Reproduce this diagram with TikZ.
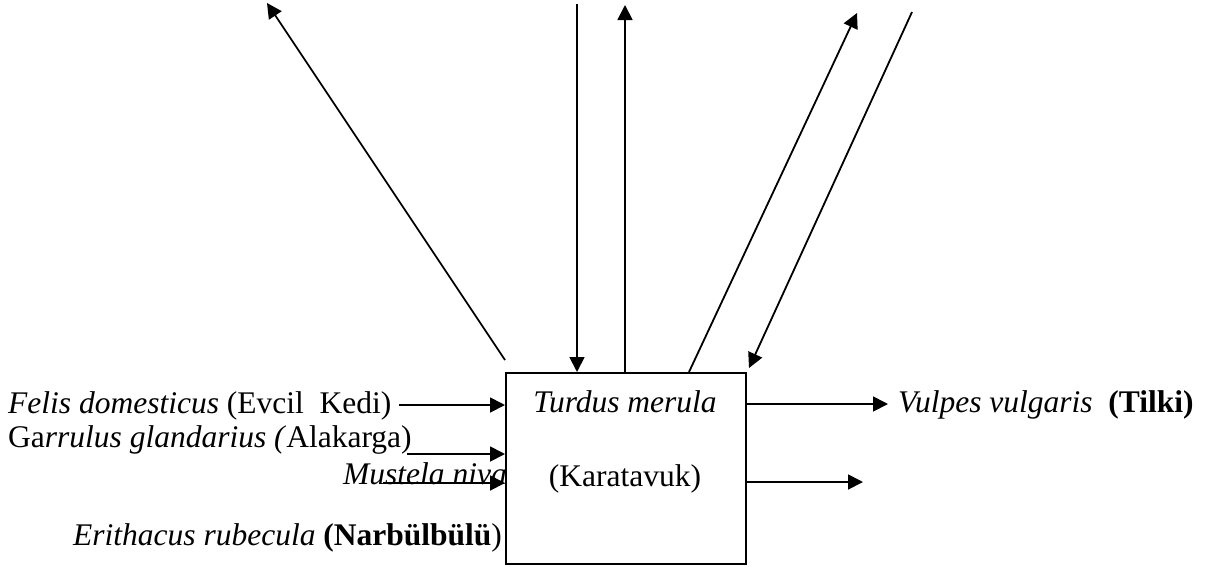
\documentclass[tikz,border=0pt]{standalone}
\usepackage{fontspec}
\setmainfont{Liberation Serif}
\usetikzlibrary{arrows.meta,positioning}
\tikzset{
  link/.style={line width=1.8pt,-{Triangle[length=15pt,width=15pt]}},
  lbl/.style={inner sep=0pt,anchor=base west,font=\fontsize{31.5}{37}\selectfont},
  boxed/.style={draw,fill=white,line width=1.8pt,inner sep=0pt,anchor=north west,
    minimum width=240pt,minimum height=191pt},
}
\begin{document}
\begin{tikzpicture}[x=1pt,y=-1pt]
\useasboundingbox (0,0) rectangle (1215,566);
% prey and predators on the left
\node[lbl] (felis) at (8,413) {\textit{Felis domesticus} (Evcil\ \ Kedi)};
\node[lbl] (garr) at (8,447) {Ga\textit{rrulus glandarius (}Alakarga)};
\node[lbl] (must) at (343,484) {\textit{Mustela niva}};
\node[lbl] (erith) at (73,545) {\textit{Erithacus rubecula} \textbf{(Narbülbülü})};
% the blackbird
\node[boxed] (kara) at (505,372) {};
\node[lbl,anchor=base] (latin) at (625,412) {\textit{Turdus merula}};
\node[lbl,anchor=base] (turk) at (625,486) {(Karatavuk)};
\node[lbl] (vulp) at (898,412) {\textit{Vulpes vulgaris}\ \ \textbf{(Tilki)}};
% free ends
\coordinate (fin) at (399,405);
\coordinate (gin) at (407,454);
\coordinate (min) at (383,483);
\coordinate (s1) at (505,360);
\coordinate (t1) at (267,3);
\coordinate (t2) at (577,4);
\coordinate (t3) at (625,5);
\coordinate (s4) at (689,372);
\coordinate (t4) at (857,13);
\coordinate (t5) at (912,12);
\coordinate (e5) at (749,368);
\coordinate (o1) at (888,404);
\coordinate (o2) at (863,482);
% links
\draw[link] (fin) -- (fin -| kara.west);
\draw[link] (gin) -- (gin -| kara.west);
\draw[link] (min) -- (min -| kara.west);
\draw[link] (s1) -- (t1);
\draw[link] (t2) -- (t2 |- kara.north);
\draw[link] (t3 |- kara.north) -- (t3);
\draw[link] (s4) -- (t4);
\draw[link] (t5) -- (e5);
\draw[link] (o1 -| kara.east) -- (o1);
\draw[link] (o2 -| kara.east) -- (o2);
\end{tikzpicture}
\end{document}
